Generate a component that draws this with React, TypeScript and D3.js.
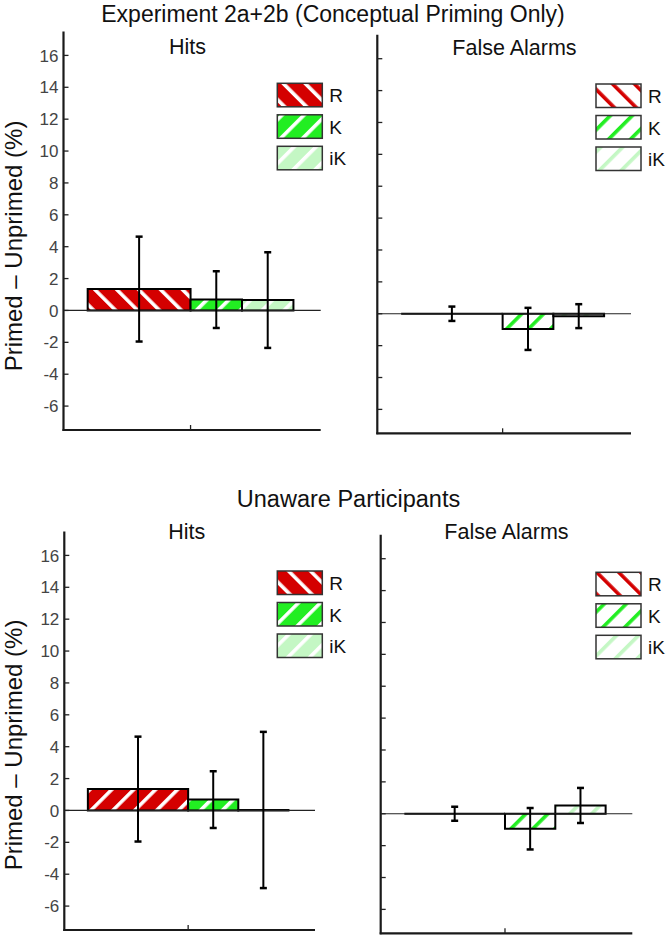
import React from "react";
import * as d3 from "d3";

// ---- data ----
const categories = ["R", "K", "iK"];
const yTicks = [-6, -4, -2, 0, 2, 4, 6, 8, 10, 12, 14, 16];

const hitsExp = [1.34, 0.68, 0.65];
const hitsExpErr = [3.29, 1.78, 3.0];
const faExp = [0.0, -0.95, -0.15];
const faExpErr = [0.45, 1.32, 0.75];

const hitsUnaware = [1.34, 0.68, 0.03];
const hitsUnawareErr = [3.29, 1.78, 4.9];
const faUnaware = [0.0, -0.94, 0.52];
const faUnawareErr = [0.44, 1.3, 1.1];

// ---- layout / style ----
const W = 666;
const H = 936;
const FONT = "Liberation Sans, Arial, Helvetica, sans-serif";
const colors = { R: "#d40000", K: "#22ee22", iK: "#c4f7c4" };
const barSlots = [[0, 2], [2, 3], [3, 4]];
const xDomain = [-0.47, 4.53];
const yDomain = [-7.5, 17.5];

type Panel = {
  key: string;
  x0: number; x1: number; yBottom: number; yTop: number;
  values: number[]; errors: number[];
  mode: "hits" | "fa";
  rDir: "back" | "fwd";
  showLabels: boolean;
  legendX: number; legendY: number;
  title: string; titleX: number; titleY: number;
};

const panels: Panel[] = [
  { key: "tl", x0: 63.5, x1: 320.7, yBottom: 430, yTop: 31.5, values: hitsExp, errors: hitsExpErr, mode: "hits", rDir: "back", showLabels: true, legendX: 277.3, legendY: 83.3, title: "Hits", titleX: 187.5, titleY: 54 },
  { key: "tr", x0: 377.3, x1: 631, yBottom: 433.3, yTop: 34.8, values: faExp, errors: faExpErr, mode: "fa", rDir: "back", showLabels: false, legendX: 596, legendY: 84, title: "False Alarms", titleX: 514.5, titleY: 55 },
  { key: "bl", x0: 64.3, x1: 315, yBottom: 930, yTop: 531.5, values: hitsUnaware, errors: hitsUnawareErr, mode: "hits", rDir: "fwd", showLabels: true, legendX: 277.3, legendY: 571, title: "Hits", titleX: 186.7, titleY: 539.3 },
  { key: "br", x0: 380.7, x1: 632.3, yBottom: 933.3, yTop: 534.8, values: faUnaware, errors: faUnawareErr, mode: "fa", rDir: "back", showLabels: false, legendX: 596, legendY: 572.3, title: "False Alarms", titleX: 506.5, titleY: 539.3 },
];

const PERIOD = 15.5;
const STRIPE = 3.6;

function patId(cat: string, mode: string, dir: string) {
  return `hatch-${cat}-${mode}-${dir}`;
}

function Patterns() {
  const defs: React.ReactNode[] = [];
  for (const cat of categories) {
    for (const mode of ["hits", "fa"]) {
      for (const dir of ["back", "fwd"]) {
        const c = (colors as any)[cat];
        const bg = mode === "hits" ? c : "#ffffff";
        const fg = mode === "hits" ? "#ffffff" : c;
        defs.push(
          <pattern
            key={patId(cat, mode, dir)}
            id={patId(cat, mode, dir)}
            patternUnits="userSpaceOnUse"
            width={PERIOD}
            height={PERIOD}
            patternTransform={`rotate(${dir === "fwd" ? 45 : -45})`}
          >
            <rect x={0} y={0} width={PERIOD} height={PERIOD} fill={bg} />
            <rect x={0} y={0} width={STRIPE} height={PERIOD} fill={fg} />
          </pattern>
        );
      }
    }
  }
  return <defs>{defs}</defs>;
}

function PanelView({ p }: { p: Panel }) {
  const x = d3.scaleLinear().domain(xDomain).range([p.x0, p.x1]);
  const y = d3.scaleLinear().domain(yDomain).range([p.yBottom, p.yTop]);
  const y0 = y(0);

  const barPath = (i: number) => {
    const [a, b] = barSlots[i];
    const v = p.values[i];
    const path = d3.path();
    const top = Math.min(y(v), y0);
    const bot = Math.max(y(v), y0);
    path.moveTo(x(a), bot);
    path.lineTo(x(a), top);
    path.lineTo(x(b), top);
    path.lineTo(x(b), bot);
    path.closePath();
    return path.toString();
  };

  return (
    <g>
      <text x={p.titleX} y={p.titleY} textAnchor="middle" fontSize={21.5} fontFamily={FONT} fill="#111">
        {p.title}
      </text>
      {categories.map((cat, i) => {
        const dir = cat === "R" ? p.rDir : "fwd";
        return (
          <path
            key={cat}
            d={barPath(i)}
            fill={`url(#${patId(cat, p.mode, dir)})`}
            stroke="#000"
            strokeWidth={2}
            strokeLinejoin="miter"
          />
        );
      })}
      <line x1={p.x0} x2={p.x1} y1={y0} y2={y0} stroke="#222" strokeWidth={1.2} />
      {categories.map((cat, i) => {
        const [a, b] = barSlots[i];
        const cx = x((a + b) / 2);
        const v = p.values[i];
        const e = p.errors[i];
        const yt = y(v + e);
        const yb = y(v - e);
        return (
          <g key={cat} stroke="#000" strokeWidth={2}>
            <line x1={cx} x2={cx} y1={yt} y2={yb} />
            <line x1={cx - 3.5} x2={cx + 3.5} y1={yt} y2={yt} strokeWidth={2.5} />
            <line x1={cx - 3.5} x2={cx + 3.5} y1={yb} y2={yb} strokeWidth={2.5} />
          </g>
        );
      })}
      <line x1={p.x0} x2={p.x0} y1={p.yTop} y2={p.yBottom + 1} stroke="#1a1a1a" strokeWidth={2.2} />
      <line x1={p.x0 - 1} x2={p.x1} y1={p.yBottom} y2={p.yBottom} stroke="#1a1a1a" strokeWidth={2.2} />
      <line x1={x(2)} x2={x(2)} y1={p.yBottom} y2={p.yBottom - 5} stroke="#222" strokeWidth={1.3} />
      {yTicks.map((t) => (
        <g key={t}>
          <line x1={p.x0} x2={p.x0 + 5} y1={y(t)} y2={y(t)} stroke="#222" strokeWidth={1.3} />
          {p.showLabels && (
            <text x={p.x0 - 5} y={y(t)} dy="0.36em" textAnchor="end" fontSize={17} fontFamily={FONT} fill="#444">
              {t}
            </text>
          )}
        </g>
      ))}
      {categories.map((cat, i) => {
        const ly = p.legendY + i * 31.5;
        return (
          <g key={cat}>
            <rect
              x={p.legendX}
              y={ly}
              width={45}
              height={23.5}
              fill={`url(#${patId(cat, p.mode, cat === "R" ? "back" : "fwd")})`}
              stroke="#333"
              strokeWidth={1.5}
            />
            <text x={p.legendX + 52} y={ly + 19} fontSize={19} fontFamily={FONT} fill="#111">
              {cat}
            </text>
          </g>
        );
      })}
    </g>
  );
}

export default function App() {
  return (
    <svg width={W} height={H} style={{ display: "block", position: "absolute", left: 0, top: 0, background: "#fff" }}>
      <Patterns />
      <rect x={0} y={0} width={W} height={H} fill="#fff" />
      <text x={333} y={21.5} textAnchor="middle" fontSize={23} fontFamily={FONT} fill="#111">
        Experiment 2a+2b (Conceptual Priming Only)
      </text>
      <text x={348.5} y={506.7} textAnchor="middle" fontSize={23.5} fontFamily={FONT} fill="#111">
        Unaware Participants
      </text>
      <text transform="translate(22,246) rotate(-90)" textAnchor="middle" fontSize={24} fontFamily={FONT} fill="#111">
        Primed – Unprimed (%)
      </text>
      <text transform="translate(22,745) rotate(-90)" textAnchor="middle" fontSize={24} fontFamily={FONT} fill="#111">
        Primed – Unprimed (%)
      </text>
      {panels.map((p) => (
        <PanelView key={p.key} p={p} />
      ))}
    </svg>
  );
}
